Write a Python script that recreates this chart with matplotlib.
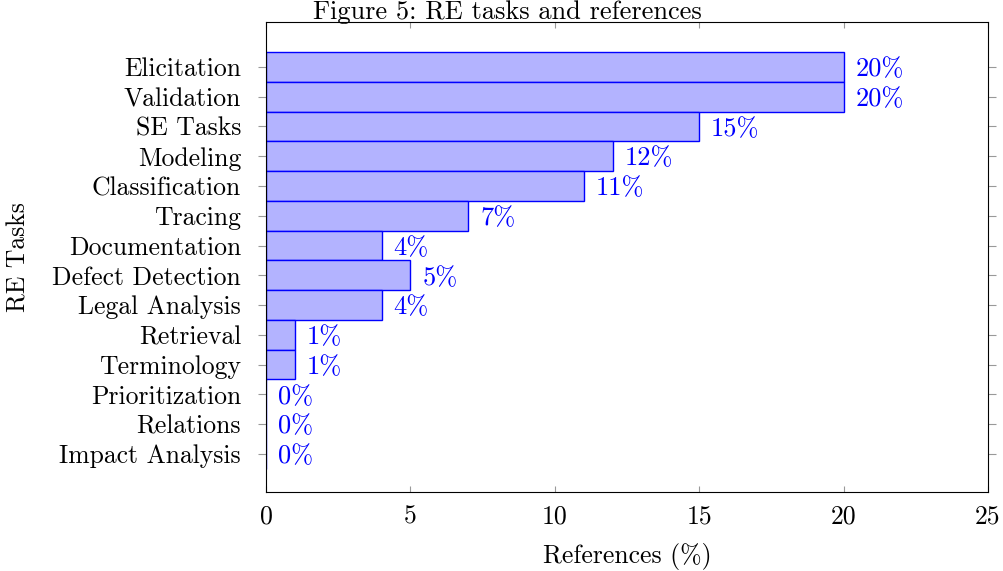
import numpy as np
import matplotlib
matplotlib.use("Agg")
import matplotlib.pyplot as plt

plt.rcParams['font.family'] = 'serif'
plt.rcParams['font.serif'] = ['cmr10', 'DejaVu Serif']
plt.rcParams['mathtext.fontset'] = 'cm'
plt.rcParams['axes.unicode_minus'] = False

tasks = ['Elicitation', 'Validation', 'SE Tasks', 'Modeling', 'Classification',
         'Tracing', 'Documentation', 'Defect Detection', 'Legal Analysis',
         'Retrieval', 'Terminology', 'Prioritization', 'Relations', 'Impact Analysis']
refs = [20, 20, 15, 12, 11, 7, 4, 5, 4, 1, 1, 0, 0, 0]

fs = 18.5
fig = plt.figure(figsize=(10.04, 5.71), dpi=100)
ax = fig.add_axes([0.265, 0.1384, 0.719, 0.8231])

y = np.arange(len(tasks))
ax.barh(y, refs, height=1.0, color=(0.7, 0.7, 1.0), edgecolor='blue', linewidth=1.0)
for yi, v in zip(y, refs):
    ax.annotate(f'{v}%', (v, yi), xytext=(8.5, 0), textcoords='offset points',
                va='center_baseline', ha='left', color='blue', fontsize=19)

ax.set_xlim(0, 25)
ax.set_ylim(14.28, -1.51)
ax.set_yticks(y)
ax.set_yticklabels(tasks, fontsize=fs)
ax.set_xticks([0, 5, 10, 15, 20, 25])
ax.tick_params(axis='x', direction='in', top=True, bottom=True, color='0.6',
               length=4, labelsize=fs, pad=9)
ax.tick_params(axis='y', direction='out', left=True, right=True, color='0.6',
               length=6, labelsize=fs, pad=12)
ax.set_xlabel('References (%)', fontsize=fs, labelpad=11)
ax.set_ylabel('RE Tasks', fontsize=fs, labelpad=16)
fig.text(0.505, 0.978, 'Figure 5: RE tasks and references', ha='center',
         va='center', fontsize=19)

fig.savefig('out.png', dpi=100)
